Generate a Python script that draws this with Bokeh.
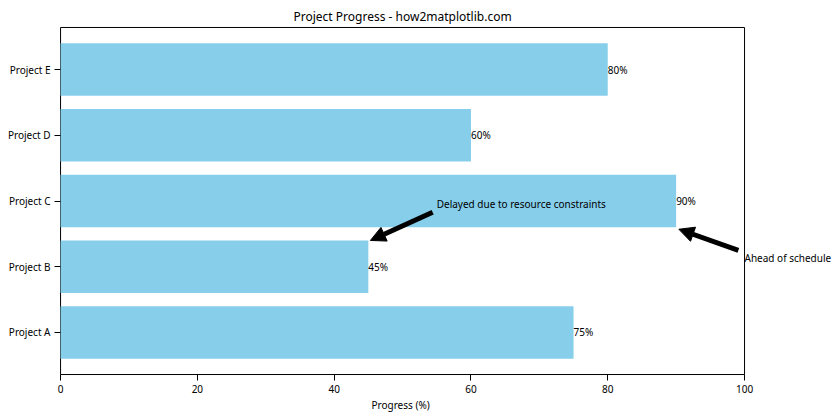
from bokeh.plotting import figure, ColumnDataSource
from bokeh.models import Range1d, FixedTicker, Label, Arrow, NormalHead, Title
from bokeh.core.properties import value
from bokeh.embed import file_html
from bokeh.resources import INLINE

projects = ["Project A", "Project B", "Project C", "Project D", "Project E"]
progress = [75, 45, 90, 60, 80]
x_ticks = [0, 20, 40, 60, 80, 100]
x_lim = (0, 100)
y_lim = (-0.64, 4.64)

# annotations: (text, text position, arrow tail, arrow tip) in data units
ann_texts = ["Delayed due to resource constraints", "Ahead of schedule"]
ann_text_xy = [(55, 1.95), (100, 1.14)]
ann_tail_xy = [(54.4, 1.83), (99.1, 1.25)]
ann_tip_xy = [(45.3, 1.40), (90.4, 1.57)]

FONT = "Noto Sans"

pos = list(range(len(projects)))
src = ColumnDataSource(dict(
    y=pos, right=progress,
    label=[f"{v}%" for v in progress],
))

p = figure(width=840, height=420, output_backend="svg", toolbar_location=None,
           x_range=Range1d(-0.3, 114.03), y_range=Range1d(-0.67, 4.67),
           min_border_left=58, min_border_right=0, min_border_top=25,
           min_border_bottom=44, title="Project Progress - how2matplotlib.com")

p.title.align = "left"
p.title.offset = 235
p.title.standoff = 2
p.title.text_font = FONT
p.title.text_font_size = "12px"
p.title.text_font_style = "normal"
p.title.text_color = "black"

# axes box (spines)
p.quad(left=[x_lim[0]], right=[x_lim[1]], bottom=[y_lim[0]], top=[y_lim[1]],
       fill_color=None, line_color="black", line_width=1)

p.hbar(y="y", right="right", left=0, height=0.8, source=src,
       fill_color="#87CEEB", line_color=None)
p.text(x="right", y="y", text="label", source=src, text_font=value(FONT),
       text_font_size="10px", text_baseline="middle", text_align="left",
       text_color="black")

for t, (tx, ty), (sx, sy), (ex, ey) in zip(ann_texts, ann_text_xy, ann_tail_xy, ann_tip_xy):
    p.add_layout(Label(x=tx, y=ty, text=t, text_font=FONT, text_font_size="10px",
                       text_baseline="middle", text_align="left", text_color="black"))
    p.add_layout(Arrow(end=NormalHead(size=15, fill_color="black", line_color="black"),
                       x_start=sx, y_start=sy, x_end=ex, y_end=ey,
                       line_width=5, line_color="black"))

p.xgrid.visible = False
p.ygrid.visible = False
p.outline_line_color = None

p.xaxis.ticker = FixedTicker(ticks=x_ticks)
p.yaxis.ticker = FixedTicker(ticks=pos)
p.yaxis.major_label_overrides = {i: n for i, n in enumerate(projects)}
for ax in (p.xaxis, p.yaxis):
    ax.minor_tick_line_color = None
    ax.major_tick_in = 2
    ax.major_tick_out = 4
    ax.axis_line_color = None
    ax.major_tick_line_color = "black"
    ax.major_label_text_font = FONT
    ax.major_label_text_font_size = "10px"
    ax.major_label_text_color = "black"
p.xaxis.major_label_standoff = 4
p.yaxis.major_label_standoff = 4

# x-axis label centred under the 0-100 spine
xlabel = Title(text="Progress (%)", align="left", offset=313, standoff=0,
               text_font=FONT, text_font_size="10px", text_font_style="normal",
               text_color="black")
p.add_layout(xlabel, "below")

open("out.html", "w").write(file_html(p, INLINE))
